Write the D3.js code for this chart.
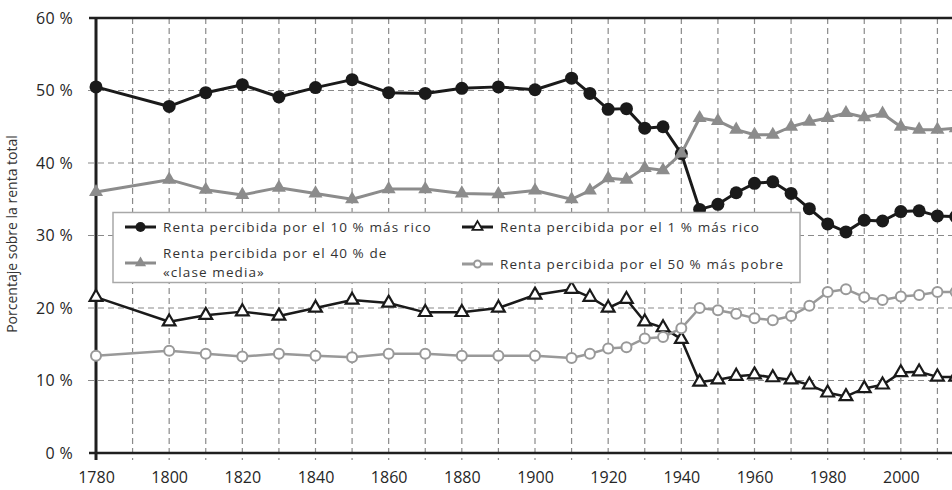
<!DOCTYPE html>
<html>
<head>
<meta charset="utf-8">
<script src="https://cdn.jsdelivr.net/npm/d3@7"></script>
<style>
  body { margin: 0; background: #fff; }
  svg text { font-family: "Open Sans", sans-serif; }
</style>
</head>
<body>
<div class="chart"></div>
<script>
// values (share of total income, %)
var years = [1780, 1800, 1810, 1820, 1830, 1840, 1850, 1860, 1870, 1880, 1890, 1900, 1910, 1915,
  1920, 1925, 1930, 1935, 1940, 1945, 1950, 1955, 1960, 1965, 1970, 1975, 1980, 1985, 1990,
  1995, 2000, 2005, 2010, 2015];
var rich10 = [50.5, 47.8, 49.7, 50.8, 49.1, 50.4, 51.5, 49.7, 49.6, 50.3, 50.5, 50.1, 51.7, 49.6,
  47.4, 47.5, 44.8, 45.0, 41.3, 33.6, 34.3, 35.9, 37.2, 37.4, 35.8, 33.7, 31.6, 30.5, 32.1,
  32.0, 33.3, 33.4, 32.7, 32.6];
var middle40 = [36.0, 37.7, 36.3, 35.6, 36.6, 35.8, 35.0, 36.4, 36.4, 35.8, 35.7, 36.2, 35.0, 36.2,
  37.9, 37.7, 39.3, 39.0, 41.3, 46.2, 45.8, 44.6, 43.9, 43.9, 45.0, 45.7, 46.2, 46.9, 46.3,
  46.8, 45.0, 44.6, 44.6, 44.8];
var rich1 = [21.5, 18.1, 19.0, 19.5, 18.9, 20.0, 21.1, 20.7, 19.4, 19.4, 20.0, 21.8, 22.6, 21.5,
  20.0, 21.2, 18.1, 17.3, 15.7, 9.8, 10.1, 10.6, 10.8, 10.4, 10.1, 9.4, 8.3, 7.8, 8.9,
  9.4, 11.1, 11.2, 10.5, 10.5];
var poor50 = [13.4, 14.1, 13.7, 13.3, 13.7, 13.4, 13.2, 13.7, 13.7, 13.4, 13.4, 13.4, 13.1, 13.7,
  14.4, 14.6, 15.8, 16.0, 17.2, 20.0, 19.7, 19.2, 18.6, 18.3, 18.9, 20.3, 22.2, 22.6, 21.5,
  21.1, 21.6, 21.8, 22.2, 22.2];

var yTicks = [0, 10, 20, 30, 40, 50, 60];
var xTicks = [1780, 1800, 1820, 1840, 1860, 1880, 1900, 1920, 1940, 1960, 1980, 2000];
var gridYears = d3.range(1790, 2020, 10);
var yTitle = "Porcentaje sobre la renta total";

var labelRich10 = ["Renta percibida por el 10 % más rico"];
var labelMiddle40 = ["Renta percibida por el 40 % de", "«clase media»"];
var labelRich1 = ["Renta percibida por el 1 % más rico"];
var labelPoor50 = ["Renta percibida por el 50 % más pobre"];

var svgWidth = 952;
var svgHeight = 490;

var svg = d3.select('div.chart')
  .append('svg')
  .attr('width', svgWidth)
  .attr('height', svgHeight);

var x = d3.scaleLinear()
  .domain([1780, 2020])
  .range([96, 974]);

var y = d3.scaleLinear()
  .domain([0, 60])
  .range([453, 18]);

// dashed grid
svg.append('g')
  .selectAll('line')
  .data(gridYears)
  .enter()
  .append('line')
  .attr('x1', function (d) { return x(d); })
  .attr('x2', function (d) { return x(d); })
  .attr('y1', y(60))
  .attr('y2', y(0) + 7)
  .attr('stroke', '#8a8a8a')
  .attr('stroke-width', 1.2)
  .attr('stroke-dasharray', '6,4');

svg.append('g')
  .selectAll('line')
  .data([10, 20, 30, 40, 50])
  .enter()
  .append('line')
  .attr('x1', x(1780) - 8)
  .attr('x2', svgWidth)
  .attr('y1', function (d) { return y(d); })
  .attr('y2', function (d) { return y(d); })
  .attr('stroke', '#8a8a8a')
  .attr('stroke-width', 1.2)
  .attr('stroke-dasharray', '6,4');

// frame
svg.append('line')
  .attr('x1', x(1780) - 7).attr('x2', svgWidth)
  .attr('y1', y(60)).attr('y2', y(60))
  .attr('stroke', '#1f1f1f').attr('stroke-width', 2.5);
svg.append('line')
  .attr('x1', x(1780) - 7).attr('x2', svgWidth)
  .attr('y1', y(0)).attr('y2', y(0))
  .attr('stroke', '#1f1f1f').attr('stroke-width', 2.5);
svg.append('line')
  .attr('x1', x(1780)).attr('x2', x(1780))
  .attr('y1', y(60)).attr('y2', y(0) + 7)
  .attr('stroke', '#1f1f1f').attr('stroke-width', 3);

// axes (labels only)
var y_axis = d3.axisLeft(y)
  .tickValues(yTicks)
  .tickSize(0)
  .tickPadding(23)
  .tickFormat(function (d) { return d + ' %'; });
var x_axis = d3.axisBottom(x)
  .tickValues(xTicks)
  .tickSize(0)
  .tickPadding(19)
  .tickFormat(d3.format('d'));

var gy = svg.append('g')
  .attr('transform', 'translate(' + x(1780) + ',0)')
  .call(y_axis);
var gx = svg.append('g')
  .attr('transform', 'translate(0,' + y(0) + ')')
  .call(x_axis);
[gy, gx].forEach(function (g) {
  g.select('.domain').remove();
  g.selectAll('text')
    .style('font-size', '16px')
    .style('fill', '#262626');
});
gy.selectAll('text').style('letter-spacing', '0.3px');

svg.append('text')
  .attr('transform', 'translate(17,' + 234 + ') rotate(-90)')
  .attr('text-anchor', 'middle')
  .style('font-size', '14px')
  .style('fill', '#333')
  .text(yTitle);

// series
var series = [
  { values: rich10, color: '#1a1a1a', width: 3, shape: 'circle', fill: '#1a1a1a', r: 6.5 },
  { values: rich1, color: '#1a1a1a', width: 2.5, shape: 'triangle', fill: '#fff', r: 6.5 },
  { values: middle40, color: '#8c8c8c', width: 3, shape: 'triangle', fill: '#8c8c8c', r: 6.5 },
  { values: poor50, color: '#999', width: 2.5, shape: 'circle', fill: '#fff', r: 6 }
];

var line = d3.line()
  .x(function (d) { return x(d.year); })
  .y(function (d) { return y(d.value); });

function drawMarker(sel, s) {
  if (s.shape === 'circle') {
    sel.append('circle')
      .attr('r', s.fill === '#fff' ? s.r - 1 : s.r)
      .attr('fill', s.fill)
      .attr('stroke', s.color)
      .attr('stroke-width', s.fill === '#fff' ? 2 : 0);
  } else {
    sel.append('path')
      .attr('d', d3.symbol().type(d3.symbolTriangle).size(s.fill === '#fff' ? 70 : 85))
      .attr('fill', s.fill)
      .attr('stroke', s.color)
      .attr('stroke-width', s.fill === '#fff' ? 2.2 : 0);
  }
}

series.forEach(function (s) {
  var pts = years.map(function (yr, i) { return { year: yr, value: s.values[i] }; });
  var g = svg.append('g');
  g.append('path')
    .datum(pts)
    .attr('d', line)
    .attr('fill', 'none')
    .attr('stroke', s.color)
    .attr('stroke-width', s.width)
    .attr('stroke-linejoin', 'round');
  g.selectAll('g.pt')
    .data(pts)
    .enter()
    .append('g')
    .attr('class', 'pt')
    .attr('transform', function (d) { return 'translate(' + x(d.year) + ',' + y(d.value) + ')'; })
    .each(function () { drawMarker(d3.select(this), s); });
});

// legend
var legend = svg.append('g');
legend.append('rect')
  .attr('x', 113).attr('y', 212.5)
  .attr('width', 687).attr('height', 70)
  .attr('fill', '#fff')
  .attr('stroke', '#a8a8a8')
  .attr('stroke-width', 1.5);

var legendItems = [
  { s: series[0], lines: labelRich10, x: 125, y: 227 },
  { s: series[2], lines: labelMiddle40, x: 125, y: 263 },
  { s: series[1], lines: labelRich1, x: 462, y: 227 },
  { s: series[3], lines: labelPoor50, x: 462, y: 264 }
];

legendItems.forEach(function (it) {
  var g = legend.append('g').attr('transform', 'translate(' + it.x + ',' + it.y + ')');
  g.append('line')
    .attr('x1', 0).attr('x2', 31)
    .attr('stroke', it.s.color)
    .attr('stroke-width', 3);
  var m = g.append('g').attr('transform', 'translate(15.5,0)');
  var small = Object.assign({}, it.s, { r: it.s.r - 1.5 });
  drawMarker(m, small);
  if (it.s.shape === 'triangle') m.select('path').attr('transform', 'scale(0.8)');
  var t = g.append('text')
    .attr('x', 38)
    .style('font-size', '13.5px')
    .style('letter-spacing', '1.1px')
    .style('fill', '#333');
  it.lines.forEach(function (l, i) {
    t.append('tspan')
      .attr('x', 38)
      .attr('y', it.lines.length > 1 ? (i === 0 ? -9.5 : 9) : 0)
      .attr('dy', '0.35em')
      .text(l);
  });
});
</script>
</body>
</html>
